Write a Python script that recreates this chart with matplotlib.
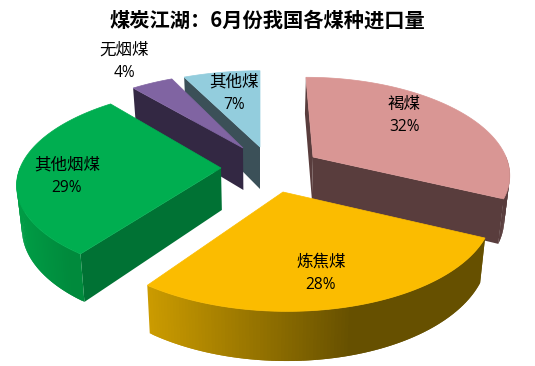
import numpy as np
import matplotlib
matplotlib.use("Agg")
import matplotlib.pyplot as plt
from matplotlib.colors import to_rgb
from matplotlib.patches import Polygon

CJK = ['Noto Sans CJK SC', 'DejaVu Sans']
plt.rcParams['font.family'] = CJK

title = "煤炭江湖：6月份我国各煤种进口量"
categories = ["褐煤", "炼焦煤", "其他烟煤", "无烟煤", "其他煤"]
shares = [32, 28, 29, 4, 7]

# styles and layout, per slice
top_colors = ["#D99694", "#FBBC00", "#00AE50", "#8064A2", "#93CDDD"]
cut_colors = ["#593D3D", "#665000", "#007234", "#332843", "#3B5058"]
wall_far = ["#593D3D", "#665000", "#008A3C", "#332843", "#3B5058"]
wall_near = ["#593D3D", "#CC9C00", "#009C45", "#332843", "#3B5058"]
apex = [(313, 157), (283, 192), (221, 168), (243, 148), (260, 147)]
radii = [(193, 92), (207, 101), (201, 93), (196, 87), (203, 88)]
visible_cuts = [(0, -1), (), (0,), (0,), (0,)]
label_pos = [(404, 104), (321, 262), (67, 165), (124, 50), (234, 82)]
pct_pos = [(404, 127), (320, 285), (67, 188), (124, 73), (234, 105)]
draw_order = [4, 3, 2, 0, 1]

PERSP, VX, DEPTH, SQUEEZE = 0.154, 260.0, 42.0, 0.022


def project(theta, i):
    """Top-face pixel position for angle theta (clockwise from 12 o'clock)."""
    ax_, ay_ = apex[i]
    rx, ry = radii[i]
    X, Y = np.sin(theta), np.cos(theta)
    s = 1 / (1 + PERSP * Y)
    return ax_ + rx * X * s + (ax_ - VX) * (s - 1), ay_ - ry * Y * s, s


def lower(x, y, s):
    return x + (VX - x) * SQUEEZE, y + DEPTH * s


fig = plt.figure(figsize=(5.35, 3.66), dpi=100)
ax = fig.add_axes([0, 0, 1, 1])
ax.set_xlim(0, 535)
ax.set_ylim(366, 0)
ax.axis("off")

edges = np.cumsum([0] + shares) / sum(shares) * 2 * np.pi

for i in draw_order:
    th = np.linspace(edges[i], edges[i + 1], 120)
    x, y, s = project(th, i)
    bx, by = lower(x, y, s)
    ax0, ay0 = apex[i]
    abx, aby = lower(ax0, ay0, 1.0)
    # radial cut faces that face the viewer
    for k in visible_cuts[i]:
        ax.add_patch(Polygon([(ax0, ay0), (x[k], y[k]), (bx[k], by[k]), (abx, aby)],
                             closed=True, fc=cut_colors[i], ec="none", lw=0))
    # outer wall (front half only), shaded by screen position
    far, near = np.array(to_rgb(wall_far[i])), np.array(to_rgb(wall_near[i]))
    idx = np.where(np.cos(th) < 0.02)[0]
    if i in (3, 4):
        idx = idx[:0]
    if i == 1:
        idx = idx[::-1]
    for p in range(len(idx) - 1):
        k, n = idx[p], idx[min(p + 2, len(idx) - 1)]
        if i == 1:
            t = np.clip((350 - x[k]) / 205, 0, 1)
        elif i == 2:
            t = np.clip((70 - x[k]) / 50, 0, 1)
        else:
            t = 0
        c = far + (near - far) * t
        ax.add_patch(Polygon([(x[k], y[k]), (x[n], y[n]), (bx[n], by[n]), (bx[k], by[k])],
                             closed=True, fc=c, ec="none", lw=0))
    # top face
    ax.add_patch(Polygon(np.r_[[[ax0, ay0]], np.c_[x, y]], closed=True,
                         fc=top_colors[i], ec=top_colors[i], lw=0.5))

for i, name in enumerate(categories):
    ax.text(*label_pos[i], name, ha="center", va="center", fontsize=11.9,
            fontweight="light", color="black")
    ax.text(*pct_pos[i], f"{shares[i]}%", ha="center", va="center", fontsize=11.2,
            family=['Open Sans', 'DejaVu Sans'], color="black")

ax.text(267, 20, title, ha="center", va="center", fontsize=14.6,
        fontweight="bold", color="black")

fig.savefig("out.png", dpi=100)
